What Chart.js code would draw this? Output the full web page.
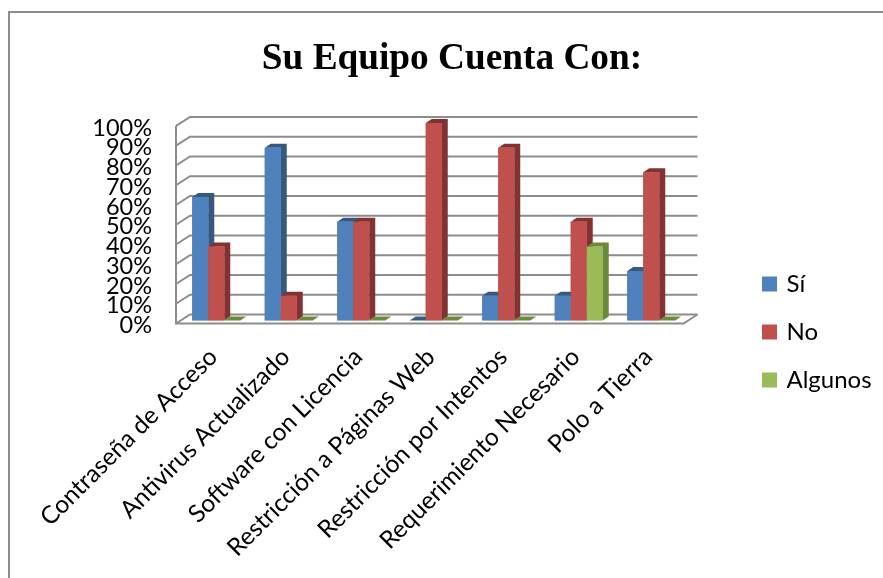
<!DOCTYPE html>
<html>
<head>
<meta charset="utf-8">
<title>Su Equipo Cuenta Con:</title>
<script src="https://cdn.jsdelivr.net/npm/chart.js@4"></script>
<style>
    html, body { margin: 0; padding: 0; background: #fff; }
    #frame { position: absolute; left: 8px; top: 11px; width: 900px; height: 600px; border: 2px solid #8C8C8C; }
    #wrap { position: absolute; left: 0; top: 0; width: 883px; height: 578px; overflow: hidden; }
    canvas { position: absolute; left: 0; top: 0; filter: blur(0.4px); }
</style>
</head>
<body>
<div id="wrap">
    <div id="frame"></div>
    <canvas id="chart" width="883" height="578"></canvas>
</div>
<script>
const categories = ['Contraseña de Acceso', 'Antivirus Actualizado', 'Software con Licencia', 'Restricción a Páginas Web', 'Restricción por Intentos', 'Requerimiento Necesario', 'Polo a Tierra'];
const si = [62.5, 87.5, 50, 0, 12.5, 12.5, 25];
const no = [37.5, 12.5, 50, 100, 87.5, 50, 75];
const algunos = [0, 0, 0, 0, 0, 37.5, 0];

const darker = { '#4F81BD': '#37597F', '#C0504D': '#823331', '#9BBB59': '#6C8A3A' };

// Back wall and side wall of the 3D box
const wallPlugin = {
    id: 'walls',
    beforeDatasetsDraw(chart) {
        const { ctx, chartArea: a, scales: { y } } = chart;
        ctx.save();
        ctx.strokeStyle = '#8C8C8C';
        ctx.lineWidth = 2;
        y.ticks.forEach(t => {
            const py = y.getPixelForValue(t.value);
            ctx.beginPath();
            ctx.moveTo(a.left - 4, py + 3);
            ctx.lineTo(a.left + 10, py - 6);
            ctx.lineTo(a.right + 10, py - 6);
            ctx.stroke();
        });
        const y0 = y.getPixelForValue(0), y100 = y.getPixelForValue(100);
        ctx.beginPath();
        ctx.moveTo(a.left - 4, y100 + 3);
        ctx.lineTo(a.left - 4, y0 + 3);
        ctx.lineTo(a.right - 4, y0 + 3);
        ctx.lineTo(a.right + 10, y0 - 6);
        ctx.stroke();
        ctx.restore();
    },
    // Bars again, left to right, with their top and side faces
    afterDatasetsDraw(chart) {
        const ctx = chart.ctx, dx = 6, dy = 4;
        ctx.save();
        chart.data.datasets.forEach((ds, i) => {
            chart.getDatasetMeta(i).data.forEach(bar => {
                const l = bar.x - bar.width / 2, r = bar.x + bar.width / 2;
                ctx.fillStyle = darker[ds.backgroundColor];
                ctx.beginPath();
                ctx.moveTo(l, bar.y);
                ctx.lineTo(l + dx, bar.y - dy);
                ctx.lineTo(r + dx, bar.y - dy);
                ctx.lineTo(r + dx, bar.base - dy);
                ctx.lineTo(r, bar.base);
                ctx.lineTo(r, bar.y);
                ctx.closePath();
                ctx.fill();
                bar.draw(ctx);
            });
        });
        ctx.restore();
    },
    afterLayout(chart) {
        const lg = chart.legend;
        lg.left = 740.5;
        lg.right = 883;
        lg.top = 248;
        lg.bottom = 420;
        // title is centred on the whole page, not on the plot
        chart.titleBlock.left = 21;
        chart.titleBlock.right = 883;
    }
};

new Chart(document.getElementById('chart'), {
    type: 'bar',
    data: {
        labels: categories,
        datasets: [
            { label: 'Sí', data: si, backgroundColor: '#4F81BD' },
            { label: 'No', data: no, backgroundColor: '#C0504D' },
            { label: 'Algunos', data: algunos, backgroundColor: '#9BBB59' }
        ]
    },
    options: {
        responsive: false,
        animation: false,
        categoryPercentage: 0.662,
        barPercentage: 1,
        layout: { padding: { left: 21, right: 195.5, top: 0, bottom: 0 } },
        scales: {
            x: {
                grid: { display: false },
                border: { display: false },
                afterFit: s => { s.height = 257.5; },
                ticks: {
                    color: '#000',
                    font: { family: 'Lato', size: 24.5 },
                    autoSkip: false,
                    minRotation: 45,
                    maxRotation: 45,
                    padding: 14,
                    labelOffset: -3
                }
            },
            y: {
                min: 0,
                max: 100,
                grid: { display: false },
                border: { display: false },
                afterFit: s => { s.width = 159; },
                ticks: {
                    color: '#000',
                    font: { family: 'Lato', size: 23.5 },
                    stepSize: 10,
                    autoSkip: false,
                    padding: 20,
                    labelOffset: 5,
                    callback: v => v + '%'
                }
            }
        },
        plugins: {
            title: {
                display: true,
                text: 'Su Equipo Cuenta Con:',
                color: '#000',
                font: { family: 'Liberation Serif', size: 37.3, weight: 'bold' },
                padding: { top: 37, bottom: 41.2 }
            },
            legend: {
                position: 'chartArea',
                align: 'start',
                labels: {
                    color: '#000',
                    font: { family: 'Lato', size: 24 },
                    boxWidth: 10,
                    boxHeight: 10,
                    padding: 24,
                    // square is a 10px box with a 5px outline, keeps the label close to it
                    generateLabels: c => Chart.defaults.plugins.legend.labels.generateLabels(c)
                        .map(item => ({ ...item, lineWidth: 5, strokeStyle: item.fillStyle }))
                }
            },
            tooltip: { enabled: false }
        }
    },
    plugins: [wallPlugin]
});
</script>
</body>
</html>
